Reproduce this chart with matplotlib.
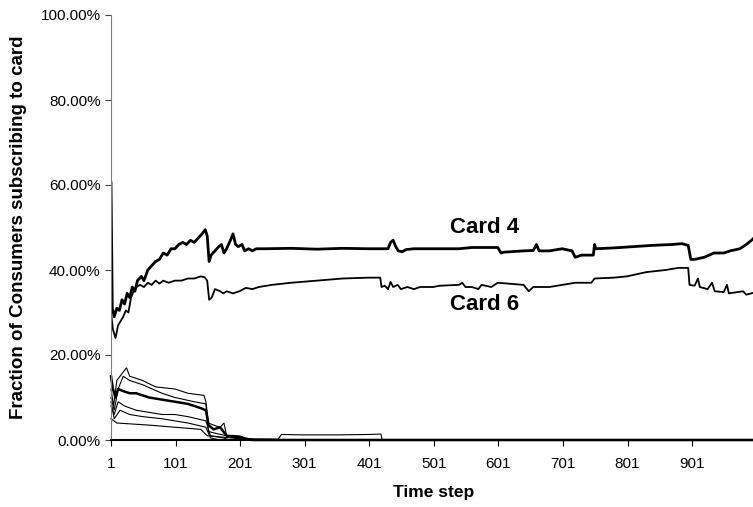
import matplotlib
matplotlib.use("Agg")
import matplotlib.pyplot as plt
from matplotlib.ticker import FixedLocator, FuncFormatter

plt.rcParams['font.family'] = ['Liberation Sans', 'DejaVu Sans']

# ---- data (time step, % of consumers) ----
card4_steps = [1, 3, 6, 10, 14, 18, 22, 26, 30, 34, 38, 42, 48, 52, 58, 64, 70, 76, 82, 88, 94, 100,
               106, 112, 118, 124, 130, 136, 142, 147, 150, 153, 156, 162, 168, 172, 176, 180, 186, 190,
               194, 198, 204, 208, 214, 220, 226, 240, 280, 320, 360, 400, 430, 434, 438, 442, 446, 452,
               458, 470, 500, 540, 560, 600, 605, 610, 640, 655, 660, 664, 680, 700, 715, 720, 730, 748,
               750, 752, 780, 800, 840, 870, 885, 895, 899, 905, 920, 935, 950, 960, 975, 985, 993, 1000]
card4_vals = [60.5, 31, 29, 31, 30.5, 33, 32, 34.5, 33.5, 36, 35, 37.5, 38.5, 37.5, 40, 41, 42, 42.5, 44,
              43.5, 45, 45, 46, 46.5, 46, 47, 46.5, 47.5, 48.5, 49.5, 48, 42, 43.5, 44.5, 45.5, 46, 44, 45,
              47, 48.5, 46, 45.5, 46, 44.5, 45, 44.5, 45, 45, 45.1, 44.9, 45.1, 45, 45, 46.5, 47, 45.5,
              44.5, 44.3, 44.8, 45, 45, 45, 45.3, 45.3, 44, 44.2, 44.5, 44.6, 46, 44.5, 44.5, 45, 44.5, 43,
              43.5, 43.5, 46, 45, 45.2, 45.4, 45.8, 46, 46.2, 45.8, 42.5, 42.5, 43, 44, 44, 44.5, 45, 46,
              47, 48]

card6_steps = [1, 4, 8, 12, 16, 20, 24, 28, 32, 36, 40, 46, 52, 58, 64, 70, 76, 82, 90, 100, 110, 120,
               130, 140, 146, 150, 153, 157, 162, 170, 175, 180, 190, 200, 210, 220, 230, 250, 280, 320,
               360, 400, 418, 420, 425, 430, 434, 438, 445, 450, 460, 470, 480, 500, 510, 540, 545, 550,
               560, 570, 575, 590, 600, 640, 648, 655, 680, 700, 720, 745, 750, 780, 800, 830, 860, 880,
               895, 897, 905, 910, 913, 925, 932, 936, 950, 955, 958, 980, 985, 1000]
card6_vals = [30, 26, 24, 27, 28, 29, 30.5, 30, 33.5, 35, 36, 36.5, 36, 37, 36.5, 37.5, 36.8, 37.5, 37,
              37.5, 37.5, 38, 38, 38.5, 38.3, 37.5, 33, 33.5, 35.5, 35, 34.5, 35, 34.5, 35, 35.8, 35.5,
              36, 36.5, 37, 37.5, 38, 38.2, 38.2, 36, 36.3, 35.5, 37.2, 36, 36.5, 35.5, 36, 35.5, 36, 36,
              36.3, 36.5, 37, 36, 36, 35.5, 36.5, 36, 37, 36.5, 35, 36, 36, 36.5, 37, 37, 38, 38.2, 38.5,
              39.5, 40, 40.5, 40.5, 36.5, 36.3, 38, 36, 35.5, 37, 35, 34.8, 36.5, 34.5, 35, 34.2, 34.8]

small_a_steps = [1, 4, 8, 12, 20, 30, 40, 60, 80, 100, 120, 140, 148, 152, 160, 170, 175, 180, 200, 210, 220, 1000]
small_a_vals = [15, 12, 10, 12, 11.5, 11, 11, 10, 9.5, 9, 8.5, 7.5, 7, 3.5, 2.5, 3, 2, 1, 0.8, 0.3, 0, 0]

small_b_steps = [1, 5, 10, 20, 25, 30, 50, 70, 100, 120, 145, 148, 152, 160, 170, 176, 180, 200, 230, 1000]
small_b_vals = [12, 8, 14, 16, 17, 15, 14, 12.5, 12, 11, 10.5, 9, 4, 3.5, 3, 4, 1, 0.5, 0, 0]

small_c_steps = [1, 6, 12, 20, 30, 50, 80, 100, 130, 148, 152, 165, 180, 205, 1000]
small_c_vals = [10, 7, 12, 15, 14, 13, 11, 10, 9, 8.5, 2, 1.5, 1, 0, 0]

small_d_steps = [1, 6, 12, 22, 40, 60, 80, 100, 120, 148, 155, 175, 185, 1000]
small_d_vals = [8, 6, 9, 8, 7, 6.5, 6, 6, 5.5, 4.5, 1, 0.5, 0, 0]

small_e_steps = [1, 6, 15, 30, 50, 80, 100, 120, 148, 155, 170, 1000]
small_e_vals = [9, 5, 7, 6, 5.5, 5, 4.5, 4, 3, 0.5, 0, 0]

small_f_steps = [1, 10, 60, 100, 140, 150, 200, 260, 265, 300, 350, 400, 419, 421, 1000]
small_f_vals = [5, 4, 3.5, 3, 2.5, 1, 0.3, 0.2, 1.3, 1.2, 1.2, 1.3, 1.4, 0, 0]

x_ticks = [1, 101, 201, 301, 401, 501, 601, 701, 801, 901]
y_ticks = [0, 20, 40, 60, 80, 100]

# ---- figure ----
fig = plt.figure(figsize=(7.53, 5.07), dpi=100)
ax = fig.add_axes([111 / 753, 67 / 507, 645 / 753, 425 / 507])

thin = 0.8
for s, v in [(small_b_steps, small_b_vals), (small_c_steps, small_c_vals),
             (small_d_steps, small_d_vals), (small_e_steps, small_e_vals),
             (small_f_steps, small_f_vals)]:
    ax.plot(s, v, color='black', lw=thin, solid_joinstyle='miter', clip_on=False)
ax.plot(small_a_steps, small_a_vals, color='black', lw=1.8, clip_on=False)
ax.plot(card6_steps, card6_vals, color='black', lw=1.3)
ax.plot(card4_steps, card4_vals, color='black', lw=2.0)

ax.text(580, 50, 'Card 4', fontsize=16, fontweight='bold', ha='center', va='center')
ax.text(580, 31.8, 'Card 6', fontsize=16, fontweight='bold', ha='center', va='center')

ax.set_xlim(1, 1000)
ax.set_ylim(0, 100)
ax.xaxis.set_major_locator(FixedLocator(x_ticks))
ax.yaxis.set_major_locator(FixedLocator(y_ticks))
ax.yaxis.set_major_formatter(FuncFormatter(lambda v, p: f'{v:.2f}%'))

for side in ['top', 'right']:
    ax.spines[side].set_visible(False)
ax.spines['left'].set_color('#808080')
ax.spines['bottom'].set_color('black')
ax.spines['bottom'].set_linewidth(1.5)
ax.tick_params(axis='both', direction='out', length=4, labelsize=11, colors='black')
ax.tick_params(axis='y', color='#404040')
ax.tick_params(axis='x', pad=8)

ax.set_xlabel('Time step', fontsize=12.5, fontweight='bold', labelpad=10)
ax.set_ylabel('Fraction of Consumers subscribing to card', fontsize=13.5, fontweight='bold', labelpad=10)

fig.savefig('out.png', dpi=100)
